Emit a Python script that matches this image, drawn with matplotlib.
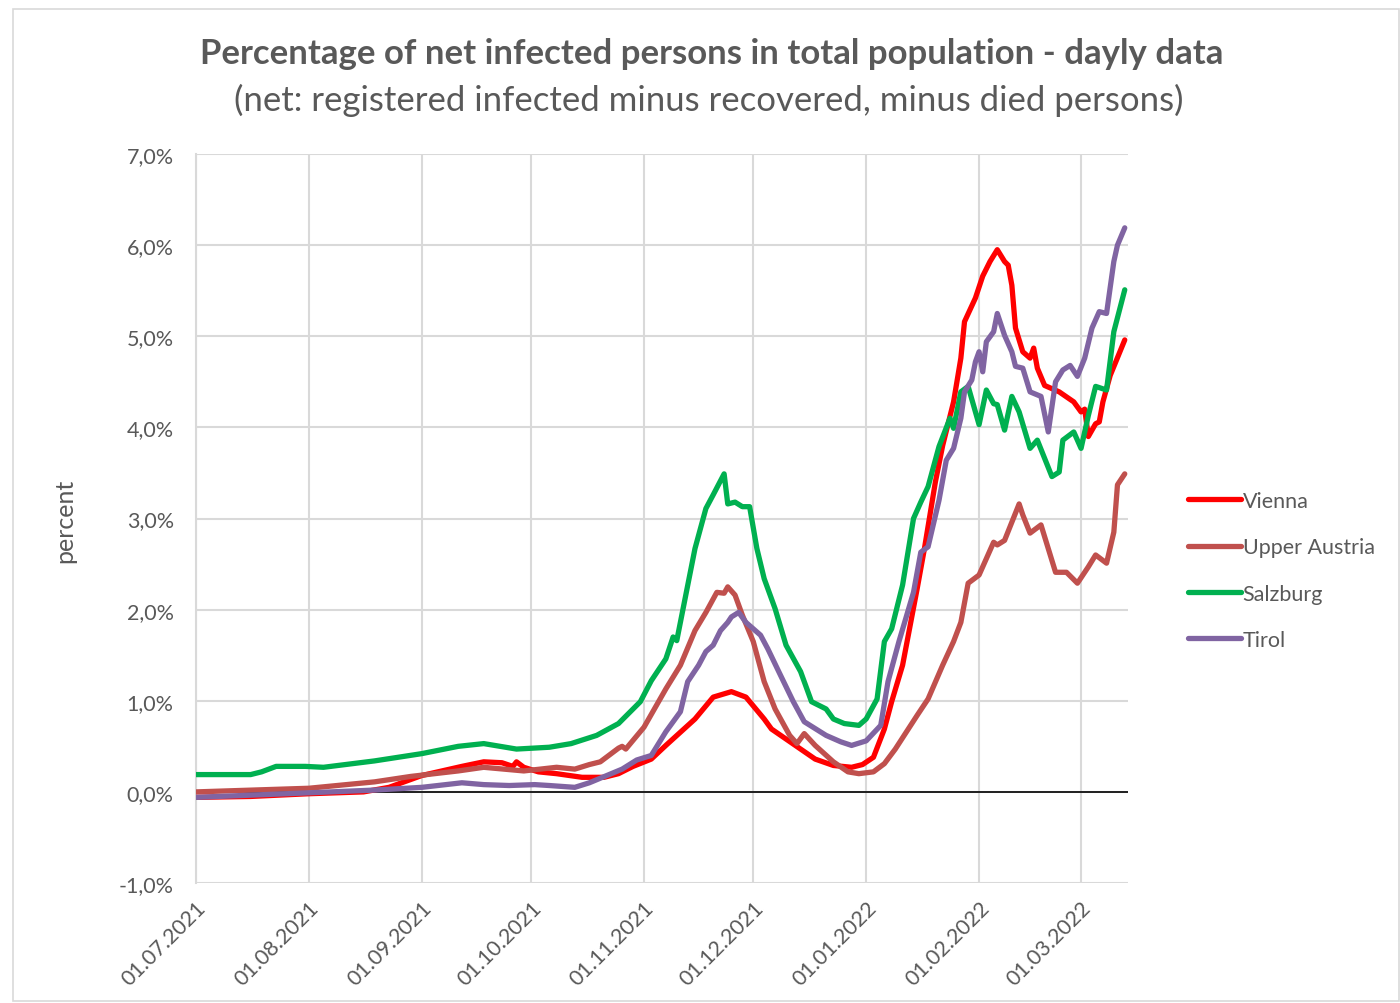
import matplotlib
matplotlib.use("Agg")
import matplotlib.pyplot as plt
from matplotlib.patches import Rectangle
import numpy as np
import pandas as pd

START = pd.Timestamp("2021-07-01")

# day offsets from 01.07.2021 and values in percent
vienna_days = [0, 15, 31, 46, 53, 62, 73, 79, 84, 87, 88, 90, 94, 99, 106, 112, 116, 120, 125, 129, 137, 142, 147, 151, 156, 158, 162, 166, 170, 175, 180, 183, 186, 189, 191, 194, 198, 200, 203, 205, 208, 210, 211, 214, 216, 218, 220, 222, 223, 224, 225, 227, 229, 230, 231, 233, 237, 241, 243, 244, 245, 247, 248, 249, 251, 255]
vienna_vals = [-0.06, -0.05, -0.02, 0.00, 0.05, 0.18, 0.28, 0.33, 0.32, 0.28, 0.33, 0.27, 0.22, 0.20, 0.16, 0.16, 0.20, 0.28, 0.36, 0.51, 0.80, 1.04, 1.10, 1.04, 0.80, 0.69, 0.58, 0.47, 0.36, 0.29, 0.27, 0.30, 0.38, 0.69, 0.99, 1.39, 2.23, 2.67, 3.40, 3.80, 4.28, 4.76, 5.16, 5.42, 5.66, 5.82, 5.95, 5.82, 5.78, 5.56, 5.09, 4.83, 4.76, 4.87, 4.65, 4.46, 4.39, 4.28, 4.17, 4.20, 3.90, 4.04, 4.06, 4.28, 4.57, 4.96]

upper_days = [0, 31, 49, 59, 72, 79, 90, 99, 104, 108, 111, 116, 117, 118, 123, 129, 133, 137, 140, 143, 145, 146, 148, 150, 153, 156, 159, 163, 165, 167, 170, 175, 179, 182, 186, 189, 192, 198, 201, 205, 208, 210, 212, 215, 219, 220, 222, 226, 227, 229, 232, 234, 236, 239, 242, 245, 247, 250, 252, 253, 255]
upper_vals = [0.00, 0.04, 0.11, 0.17, 0.23, 0.27, 0.23, 0.27, 0.25, 0.30, 0.33, 0.48, 0.50, 0.47, 0.71, 1.13, 1.39, 1.77, 1.97, 2.19, 2.18, 2.25, 2.16, 1.94, 1.65, 1.21, 0.91, 0.62, 0.53, 0.64, 0.51, 0.33, 0.22, 0.20, 0.22, 0.31, 0.47, 0.84, 1.02, 1.39, 1.65, 1.86, 2.29, 2.38, 2.74, 2.71, 2.76, 3.16, 3.04, 2.84, 2.93, 2.67, 2.41, 2.41, 2.29, 2.47, 2.60, 2.51, 2.85, 3.37, 3.49]

salzburg_days = [0, 15, 18, 22, 30, 35, 49, 62, 72, 79, 88, 97, 103, 110, 116, 120, 122, 125, 129, 131, 132, 137, 140, 142, 145, 146, 148, 150, 152, 154, 156, 159, 162, 166, 169, 173, 175, 178, 182, 184, 187, 189, 191, 194, 197, 199, 201, 204, 207, 208, 210, 212, 215, 217, 219, 220, 222, 224, 226, 229, 231, 233, 235, 237, 238, 241, 243, 245, 247, 250, 252, 255]
salzburg_vals = [0.19, 0.19, 0.22, 0.28, 0.28, 0.27, 0.34, 0.42, 0.50, 0.53, 0.47, 0.49, 0.53, 0.62, 0.75, 0.91, 0.99, 1.22, 1.46, 1.70, 1.66, 2.67, 3.11, 3.26, 3.49, 3.16, 3.18, 3.13, 3.13, 2.67, 2.34, 2.01, 1.61, 1.32, 0.99, 0.91, 0.80, 0.75, 0.73, 0.80, 1.02, 1.65, 1.79, 2.27, 3.00, 3.18, 3.35, 3.79, 4.10, 3.99, 4.39, 4.45, 4.03, 4.41, 4.26, 4.25, 3.97, 4.34, 4.17, 3.77, 3.86, 3.66, 3.46, 3.51, 3.86, 3.95, 3.77, 4.13, 4.45, 4.41, 5.05, 5.51]

tirol_days = [0, 31, 49, 62, 73, 79, 86, 93, 97, 104, 108, 114, 117, 121, 125, 129, 133, 135, 138, 140, 142, 144, 146, 147, 149, 151, 155, 157, 160, 164, 167, 173, 177, 180, 184, 188, 190, 193, 197, 199, 201, 204, 206, 208, 210, 211, 213, 214, 215, 216, 217, 219, 220, 222, 224, 225, 227, 229, 232, 234, 236, 238, 240, 242, 244, 246, 248, 250, 252, 253, 255]
tirol_vals = [-0.06, -0.01, 0.02, 0.05, 0.10, 0.08, 0.07, 0.08, 0.07, 0.05, 0.10, 0.20, 0.25, 0.35, 0.40, 0.66, 0.88, 1.21, 1.39, 1.54, 1.61, 1.77, 1.86, 1.92, 1.97, 1.86, 1.72, 1.57, 1.32, 0.99, 0.77, 0.62, 0.55, 0.51, 0.56, 0.73, 1.21, 1.65, 2.19, 2.63, 2.69, 3.20, 3.64, 3.77, 4.10, 4.39, 4.52, 4.72, 4.83, 4.61, 4.94, 5.05, 5.25, 5.01, 4.83, 4.67, 4.65, 4.39, 4.34, 3.95, 4.50, 4.63, 4.68, 4.56, 4.76, 5.09, 5.27, 5.25, 5.82, 6.00, 6.19]

series_names = ["Vienna", "Upper Austria", "Salzburg", "Tirol"]
series_colors = ["#ff0000", "#c0504d", "#00b050", "#8064a2"]

tick_dates = ["2021-07-01", "2021-08-01", "2021-09-01", "2021-10-01", "2021-11-01",
              "2021-12-01", "2022-01-01", "2022-02-01", "2022-03-01"]
y_ticks = [-1, 0, 1, 2, 3, 4, 5, 6, 7]

plt.rcParams['font.family'] = ['Lato', 'DejaVu Sans']
TXT = "#595959"

fig = plt.figure(figsize=(14, 10.04), dpi=100)
fig.patches.append(Rectangle((0.009, 0.002), 0.99, 0.988, transform=fig.transFigure,
                             fill=False, edgecolor="#d9d9d9", linewidth=1.2))

ax = fig.add_axes([0.14, 0.1195, 0.666, 0.7261])

def to_dates(days):
    return START + pd.to_timedelta(np.array(days), unit="D")

series = [(vienna_days, vienna_vals), (upper_days, upper_vals),
          (salzburg_days, salzburg_vals), (tirol_days, tirol_vals)]
for (d, v), name, col in zip(series, series_names, series_colors):
    ax.plot(to_dates(d), v, color=col, lw=3.8, label=name,
            solid_capstyle="round", solid_joinstyle="round", zorder=3)

ax.axhline(0, color="black", lw=1.2, zorder=2)

ax.set_xlim(START, START + pd.Timedelta(days=256))
ax.set_ylim(-1, 7)
ax.set_yticks(y_ticks)
ax.set_yticklabels([f"{t:.1f}".replace(".", ",") + "%" for t in y_ticks])
xt = pd.to_datetime(tick_dates)
ax.set_xticks(xt)
ax.set_xticklabels([t.strftime("%d.%m.%Y") for t in xt], rotation=45, ha="right",
                   rotation_mode="anchor")
ax.grid(True, color="#d9d9d9", lw=1.5, zorder=0)
for s in ["top", "right", "bottom"]:
    ax.spines[s].set_visible(False)
ax.spines["left"].set_color("#d9d9d9")
ax.spines["left"].set_linewidth(1.5)
ax.tick_params(length=0, labelsize=15.5, colors=TXT)
ax.tick_params(axis="y", pad=16)
ax.tick_params(axis="x", pad=10)

fig.text(0.046, 0.481, "percent", rotation=90, ha="center", va="center",
         fontsize=18, color=TXT)

fig.text(0.508, 0.946, "Percentage of net infected persons in total population - dayly data",
         ha="center", va="center", fontsize=25, fontweight="bold", color=TXT)
fig.text(0.506, 0.9, "(net: registered infected minus recovered, minus died persons)",
         ha="center", va="center", fontsize=25, color=TXT)

leg = ax.legend(loc="center left", bbox_to_anchor=(1.043, 0.429), frameon=False,
                fontsize=15.5, handlelength=2.45, handletextpad=0.1, labelspacing=1.23,
                labelcolor=TXT)

fig.savefig("out.png", dpi=100)
